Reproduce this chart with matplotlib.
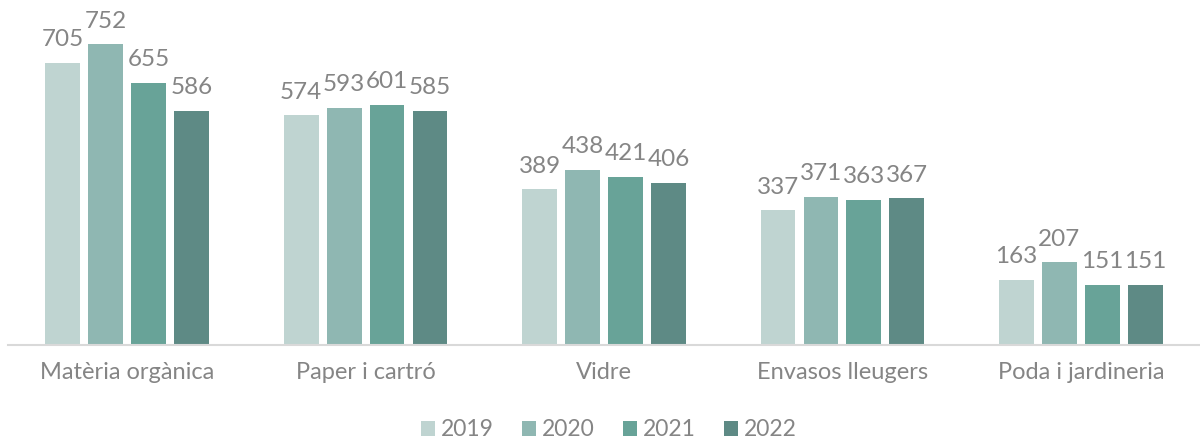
import matplotlib
matplotlib.use("Agg")
import matplotlib.pyplot as plt
import numpy as np
from matplotlib.patches import Patch

categories = ["Matèria orgànica", "Paper i cartró", "Vidre", "Envasos lleugers", "Poda i jardineria"]
years = ["2019", "2020", "2021", "2022"]
v2019 = [705, 574, 389, 337, 163]
v2020 = [752, 593, 438, 371, 207]
v2021 = [655, 601, 421, 363, 151]
v2022 = [586, 585, 406, 367, 151]
series = [v2019, v2020, v2021, v2022]
colors = ["#BFD4D1", "#8FB7B2", "#68A398", "#5E8A85"]

plt.rcParams['font.family'] = ['Lato', 'DejaVu Sans']
W, H = 1200, 445
fig = plt.figure(figsize=(12, 4.45), dpi=100)
ax = fig.add_axes([8 / W, 100 / H, 1192 / W, 320 / H])

txt = "#858585"
x = np.arange(len(categories))
step = 0.18
width = 0.146
for i, (vals, c) in enumerate(zip(series, colors)):
    pos = x + (i - 1.5) * step
    ax.bar(pos, vals, width=width, color=c, label=years[i], zorder=2)
    for p, v in zip(pos, vals):
        ax.annotate(str(v), (p, v), xytext=(0, 9), textcoords="offset points",
                    ha="center", va="bottom", fontsize=17.5, color=txt)

ax.set_xlim(-0.5, 4.5)
ax.set_ylim(0, 800)
ax.set_yticks([])
for s in ["top", "right", "left"]:
    ax.spines[s].set_visible(False)
ax.spines["bottom"].set_color("#D9D9D9")
ax.spines["bottom"].set_linewidth(1.5)
ax.set_xticks(x)
ax.set_xticklabels(categories, fontsize=17, color=txt)
ax.tick_params(axis="x", length=0, pad=12)

handles = [Patch(facecolor=c, label=y) for c, y in zip(colors, years)]
fig.legend(handles=handles, loc="center", bbox_to_anchor=(609 / W, 1 - 430 / H), ncol=4,
           frameon=False, labelcolor=txt, handlelength=0.6,
           handleheight=0.6, handletextpad=0.25, columnspacing=1.25,
           prop={"size": 16.5})

fig.savefig("out.png", dpi=100)
